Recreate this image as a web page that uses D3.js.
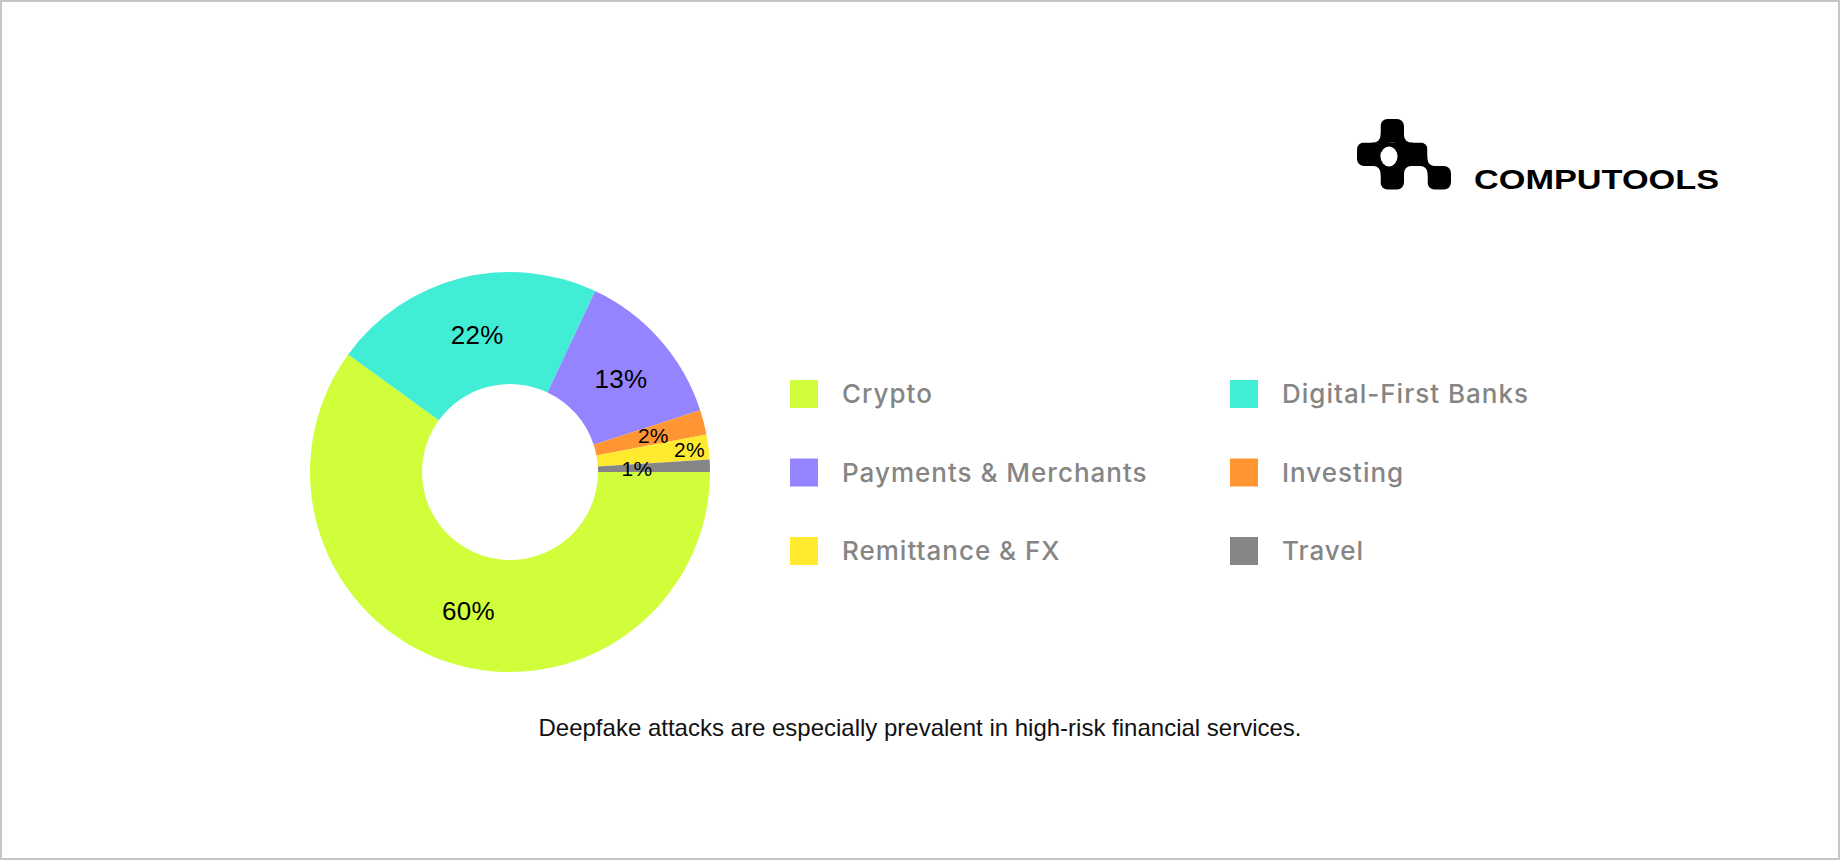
<!DOCTYPE html>
<html>
<head>
<meta charset="utf-8">
<script src="https://cdn.jsdelivr.net/npm/d3@7"></script>
<style>
  html, body { margin: 0; padding: 0; background: #fff; }
  svg { display: block; }
</style>
</head>
<body>
<svg id="chart" width="1840" height="860"></svg>
<script>
// ---- data ----
const categories = ["Crypto", "Digital-First Banks", "Payments & Merchants", "Investing", "Remittance & FX", "Travel"];
const shares = [60, 22, 13, 2, 2, 1];
const colors = ["#d0fe3b", "#41edd5", "#9584ff", "#ff9533", "#ffea30", "#868686"];
const caption = "Deepfake attacks are especially prevalent in high-risk financial services.";
const brand = "COMPUTOOLS";

// ---- layout ----
const W = 1840, H = 860;
const cx = 510, cy = 472, rOuter = 200, rInner = 88;
// radial label position tweaks for thin slices (by category)
const labelRadius = { "Investing": 148, "Remittance & FX": 181, "Travel": 127 };

const svg = d3.select("#chart");
svg.append("rect").attr("x", 1).attr("y", 1).attr("width", W - 2).attr("height", H - 2)
  .attr("fill", "#fff").attr("stroke", "#c6c6c6").attr("stroke-width", 2);

const data = categories.map((c, i) => ({ cat: c, value: shares[i], color: colors[i] }));

const pie = d3.pie().sort(null).value(d => d.value)
  .startAngle(Math.PI / 2).endAngle(Math.PI / 2 + 2 * Math.PI);
const arc = d3.arc().innerRadius(rInner).outerRadius(rOuter);
const arcs = pie(data);

const g = svg.append("g").attr("transform", `translate(${cx},${cy})`);
g.selectAll("path.slice").data(arcs).join("path")
  .attr("class", "slice")
  .attr("d", arc)
  .attr("fill", d => d.data.color);

g.selectAll("text.lbl").data(arcs).join("text")
  .attr("class", "lbl")
  .attr("transform", d => {
    const r = labelRadius[d.data.cat];
    if (r) {
      const a = (d.startAngle + d.endAngle) / 2;
      return `translate(${r * Math.sin(a)},${-r * Math.cos(a)})`;
    }
    const c = arc.centroid(d);
    return `translate(${c[0] + 3},${c[1] + 2})`;
  })
  .attr("text-anchor", "middle")
  .attr("dy", "0.36em")
  .attr("font-family", "'Liberation Sans', Arial, sans-serif")
  .attr("font-size", d => d.data.value >= 10 ? 26 : 21)
  .attr("letter-spacing", 0.3)
  .attr("fill", "#000")
  .text(d => d.data.value + "%");

// ---- legend ----
const legend = svg.append("g");
const colX = [790, 1230], rowY0 = 380, rowStep = 78.5, sw = 28;
const items = legend.selectAll("g.item").data(data).join("g")
  .attr("class", "item")
  .attr("transform", (d, i) => `translate(${colX[i % 2]},${rowY0 + Math.floor(i / 2) * rowStep})`);
items.append("rect").attr("width", sw).attr("height", sw).attr("fill", d => d.color);
items.append("text")
  .attr("x", 52).attr("y", sw / 2).attr("dy", "0.36em")
  .attr("font-family", "Inter, 'Liberation Sans', sans-serif")
  .attr("font-size", 26).attr("font-weight", 500)
  .attr("letter-spacing", 1)
  .attr("fill", "#858585")
  .text(d => d.cat);

// ---- caption ----
svg.append("text")
  .attr("x", 920).attr("y", 736)
  .attr("text-anchor", "middle")
  .attr("font-family", "'Liberation Sans', Arial, sans-serif")
  .attr("font-size", 24)
  .attr("fill", "#111")
  .text(caption);

// ---- logo ----
const logo = svg.append("g").attr("transform", "translate(1357,119)");
const cs = 23.5, rr = 7;
const blackCells = [[1, 0], [0, 1], [2, 1], [1, 1], [1, 2], [3, 2]];
const joints = [[1, 1], [2, 1], [1, 2], [2, 2], [3, 2]];
const whiteCells = [[0, 0], [2, 0], [0, 2], [2, 2], [3, 1]];
logo.selectAll("rect.j").data(joints).join("rect").attr("class", "j")
  .attr("x", d => d[0] * cs - 9).attr("y", d => d[1] * cs - 9)
  .attr("width", 18).attr("height", 18).attr("fill", "#000");
logo.selectAll("rect.b").data(blackCells).join("rect").attr("class", "b")
  .attr("x", d => d[0] * cs).attr("y", d => d[1] * cs)
  .attr("width", cs).attr("height", cs).attr("rx", rr).attr("fill", "#000");
logo.selectAll("rect.w").data(whiteCells).join("rect").attr("class", "w")
  .attr("x", d => d[0] * cs).attr("y", d => d[1] * cs)
  .attr("width", cs).attr("height", cs).attr("rx", rr).attr("fill", "#fff");
logo.append("ellipse").attr("cx", cs + 8.5).attr("cy", cs + 14)
  .attr("rx", 8.5).attr("ry", 10).attr("fill", "#fff");
svg.append("text")
  .attr("x", 1474).attr("y", 189)
  .attr("font-family", "'Liberation Sans', Arial, sans-serif")
  .attr("font-weight", 700).attr("font-size", 27)
  .attr("textLength", 245).attr("lengthAdjust", "spacingAndGlyphs")
  .attr("fill", "#000")
  .text(brand);
</script>
</body>
</html>
